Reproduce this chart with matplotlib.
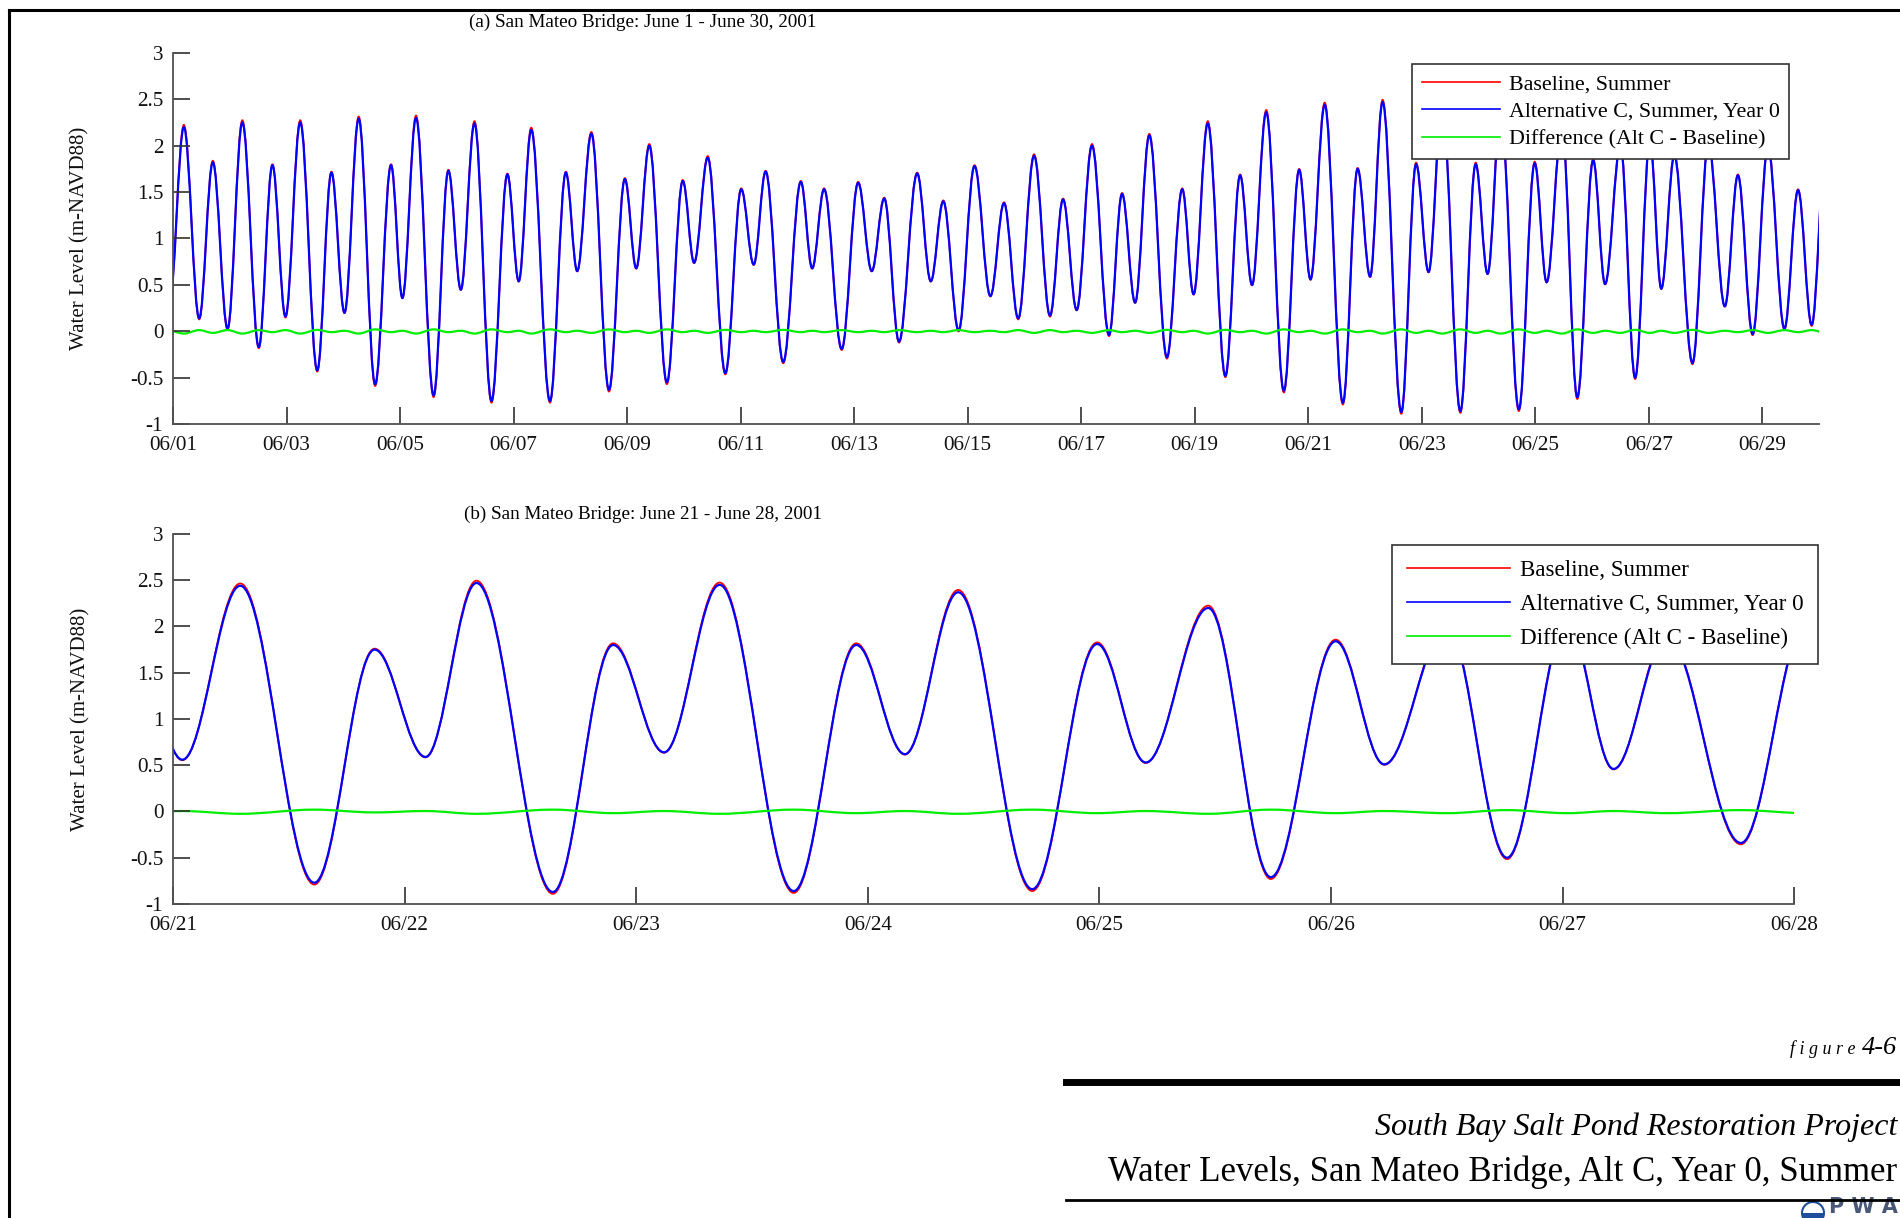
import matplotlib
matplotlib.use("Agg")
from datetime import datetime

import numpy as np
import matplotlib.pyplot as plt
import matplotlib.dates as mdates
from matplotlib.path import Path
from matplotlib.patches import PathPatch, Wedge, Circle
from matplotlib.lines import Line2D

plt.rcParams["font.family"] = ["Liberation Serif", "DejaVu Serif"]
plt.rcParams["axes.unicode_minus"] = False

# tide turning points (highs and lows), in days after 2001-06-01 00:00
tide_day = [
    -0.07, 0.19, 0.46, 0.70, 0.96, 1.22, 1.51, 1.75, 1.98, 2.24,
    2.54, 2.79, 3.02, 3.27, 3.56, 3.84, 4.04, 4.28, 4.59, 4.85,
    5.07, 5.31, 5.61, 5.89, 6.09, 6.31, 6.64, 6.92, 7.12, 7.37,
    7.68, 7.96, 8.16, 8.39, 8.70, 8.98, 9.18, 9.42, 9.73, 10.01,
    10.23, 10.44, 10.75, 11.06, 11.26, 11.47, 11.78, 12.07, 12.31, 12.53,
    12.79, 13.11, 13.35, 13.57, 13.84, 14.12, 14.40, 14.64, 14.89, 15.17,
    15.45, 15.68, 15.92, 16.19, 16.49, 16.72, 16.95, 17.20, 17.51, 17.78,
    17.98, 18.23, 18.54, 18.80, 19.01, 19.26, 19.57, 19.84, 20.04, 20.29,
    20.61, 20.87, 21.09, 21.31, 21.64, 21.90, 22.12, 22.36, 22.68, 22.95,
    23.16, 23.39, 23.71, 23.99, 24.20, 24.47, 24.74, 25.02, 25.23, 25.50,
    25.76, 26.02, 26.22, 26.45, 26.77, 27.05, 27.34, 27.57, 27.83, 28.10,
    28.39, 28.63, 28.87, 29.12,
]

# Alternative C, Summer, Year 0 water level at those points (m NAVD88)
alt_c = [
    0.25, 2.20, 0.14, 1.82, 0.03, 2.25, -0.17, 1.79, 0.16, 2.25,
    -0.42, 1.71, 0.20, 2.29, -0.57, 1.79, 0.36, 2.30, -0.69, 1.73,
    0.45, 2.24, -0.75, 1.69, 0.54, 2.17, -0.75, 1.71, 0.65, 2.13,
    -0.63, 1.64, 0.68, 2.00, -0.55, 1.62, 0.74, 1.87, -0.45, 1.53,
    0.72, 1.72, -0.33, 1.61, 0.68, 1.53, -0.19, 1.60, 0.65, 1.43,
    -0.11, 1.70, 0.54, 1.40, 0.01, 1.78, 0.38, 1.38, 0.14, 1.89,
    0.17, 1.42, 0.23, 2.00, -0.04, 1.48, 0.31, 2.11, -0.28, 1.53,
    0.40, 2.24, -0.48, 1.68, 0.50, 2.36, -0.64, 1.74, 0.56, 2.44,
    -0.77, 1.75, 0.59, 2.47, -0.87, 1.80, 0.64, 2.45, -0.86, 1.80,
    0.62, 2.37, -0.84, 1.81, 0.53, 2.20, -0.71, 1.84, 0.51, 2.00,
    -0.50, 2.05, 0.46, 1.89, -0.34, 2.02, 0.27, 1.68, -0.03, 1.98,
    0.03, 1.52, 0.07, 2.00,
]

# Alt C - Baseline at the same points (m)
difference = [
    0.005, -0.025, 0.012, -0.018, 0.012, -0.025, 0.012, -0.01, 0.012, -0.025,
    0.015, -0.01, 0.005, -0.025, 0.02, -0.01, 0.005, -0.025, 0.02, -0.01,
    0.005, -0.025, 0.02, -0.01, 0.005, -0.025, 0.02, -0.01, 0.005, -0.018,
    0.02, -0.01, 0.005, -0.018, 0.02, -0.01, 0.005, -0.018, 0.015, -0.01,
    0.005, -0.01, 0.015, -0.01, 0.005, -0.01, 0.012, -0.01, 0.005, -0.01,
    0.012, -0.01, 0.005, -0.01, 0.012, -0.01, 0.005, -0.01, 0.012, -0.018,
    0.012, -0.01, 0.005, -0.018, 0.012, -0.01, 0.005, -0.018, 0.015, -0.01,
    0.005, -0.025, 0.015, -0.01, 0.005, -0.025, 0.02, -0.01, 0.005, -0.025,
    0.02, -0.01, 0.005, -0.025, 0.02, -0.018, 0.005, -0.025, 0.02, -0.018,
    0.005, -0.025, 0.02, -0.018, 0.005, -0.025, 0.02, -0.018, 0.005, -0.018,
    0.015, -0.018, 0.005, -0.018, 0.015, -0.018, 0.005, -0.01, 0.012, -0.018,
    0.012, -0.01, 0.012, -0.018,
]

series_labels = ["Baseline, Summer", "Alternative C, Summer, Year 0",
                 "Difference (Alt C - Baseline)"]
series_colors = ["#ff0000", "#0000ff", "#00ee00"]
y_ticks = [-1, -0.5, 0, 0.5, 1, 1.5, 2, 2.5, 3]

START = mdates.date2num(datetime(2001, 6, 1))
day = START + np.array(tide_day)
alt = np.array(alt_c)
diff = np.array(difference)
base = alt - diff


def tide_path(x, y):
    # smooth curve through turning points, flat tangent at each high/low
    verts = [(x[0], y[0])]
    codes = [Path.MOVETO]
    for i in range(len(x) - 1):
        dx = x[i + 1] - x[i]
        verts += [(x[i] + 0.364 * dx, y[i]), (x[i + 1] - 0.364 * dx, y[i + 1]),
                  (x[i + 1], y[i + 1])]
        codes += [Path.CURVE4] * 3
    return Path(verts, codes)


fig = plt.figure(figsize=(19, 12.18), dpi=100)
ax_a = fig.add_axes([0.0911, 0.6519, 0.8663, 0.3046])
ax_b = fig.add_axes([0.0911, 0.2578, 0.8532, 0.3038])

for ax, (d0, d1) in ((ax_a, (0, 29)), (ax_b, (20, 27))):
    for y, c, lw in ((base, series_colors[0], 1.3), (alt, series_colors[1], 1.6),
                     (diff, series_colors[2], 1.6)):
        ax.add_patch(PathPatch(tide_path(day, y), fill=False, edgecolor=c, lw=lw))
    ax.set_xlim(START + d0, START + d1)
    ax.set_ylim(-1, 3)
    ax.set_yticks(y_ticks)
    ax.yaxis.set_major_formatter(plt.FuncFormatter(lambda v, p: f"{v:g}"))
    ax.xaxis.set_major_formatter(mdates.DateFormatter("%m/%d"))
    for s in ("top", "right"):
        ax.spines[s].set_visible(False)
    for s in ("left", "bottom"):
        ax.spines[s].set_color("#505050")
        ax.spines[s].set_linewidth(1.3)
    ax.tick_params(direction="in", length=12, width=1.2, color="#303030",
                   labelsize=15.2, labelcolor="#111111")
    ax.tick_params(axis="y", pad=7)
    ax.tick_params(axis="x", pad=9)
    ax.set_ylabel("Water Level (m-NAVD88)", fontsize=15, color="#111111")
    ax.yaxis.set_label_coords(-0.051, 0.5)

ax_a.xaxis.set_major_locator(mdates.DayLocator(bymonthday=range(1, 31, 2)))
ax_b.xaxis.set_major_locator(mdates.DayLocator())

handles = [Line2D([], [], color=c, lw=1.2) for c in series_colors]
legend_style = [
    (ax_a, (0.982, 0.970), dict(fontsize=15.8, handlelength=3.55,
                                labelspacing=0.33, borderpad=0.45)),
    (ax_b, (1.015, 0.970), dict(fontsize=16.6, handlelength=4.5,
                                labelspacing=0.56, borderpad=0.65)),
]
for ax, anchor, kw in legend_style:
    leg = ax.legend(handles, series_labels, loc="upper right", bbox_to_anchor=anchor,
                    borderaxespad=0, fancybox=False, framealpha=1,
                    handletextpad=0.41, **kw)
    leg.get_frame().set_edgecolor("#333333")
    leg.get_frame().set_linewidth(1.2)

fig.text(0.3384, 0.982, "(a) San Mateo Bridge: June 1 - June 30, 2001",
         ha="center", va="center", fontsize=13.8)
fig.text(0.3384, 0.578, "(b) San Mateo Bridge: June 21 - June 28, 2001",
         ha="center", va="center", fontsize=13.8)

# page frame
fig.add_artist(Line2D([9 / 1900, 9 / 1900], [0, 1 - 10 / 1218], color="black",
                      lw=2.2, transform=fig.transFigure))
fig.add_artist(Line2D([9 / 1900, 1], [1 - 10 / 1218, 1 - 10 / 1218], color="black",
                      lw=2.2, transform=fig.transFigure))

# title block
fig.text(0.9765, 1 - 1054 / 1218, "f i g u r e", ha="right", va="baseline",
         fontsize=13, style="italic")
fig.text(0.9985, 1 - 1054 / 1218, "4-6", ha="right", va="baseline",
         fontsize=19, style="italic")
fig.add_artist(Line2D([1066 / 1900, 1], [1 - 1082 / 1218] * 2, color="black",
                      lw=5, transform=fig.transFigure))
fig.text(0.9985, 1 - 1127 / 1218, "South Bay Salt Pond Restoration Project",
         ha="right", va="center", fontsize=23, style="italic")
fig.text(0.9985, 1 - 1172 / 1218, "Water Levels, San Mateo Bridge, Alt C, Year 0, Summer",
         ha="right", va="center", fontsize=25)
fig.add_artist(Line2D([1066 / 1900, 1], [1 - 1200 / 1218] * 2, color="black",
                      lw=2, transform=fig.transFigure))

# PWA mark
logo = fig.add_axes([1795 / 1900, 0, 105 / 1900, 17 / 1218])
logo.set_xlim(0, 105)
logo.set_ylim(0, 17)
logo.set_aspect("equal")
logo.axis("off")
logo.add_patch(Circle((18, 5), 11, fill=False, ec="#1f4e9c", lw=1.5))
logo.add_patch(Wedge((18, 5), 11, 180, 360, fc="#1f4e9c", ec="none"))
logo.text(34, 1, "P W A", fontsize=15, fontweight="bold", color="#4a5878",
          family="DejaVu Sans", va="bottom")

fig.savefig("out.png", dpi=100)
